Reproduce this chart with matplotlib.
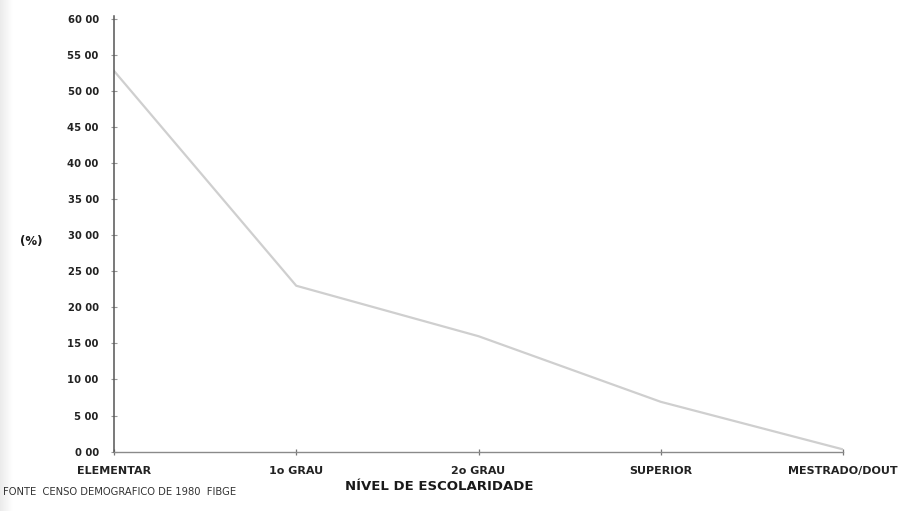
import matplotlib.pyplot as plt
import numpy as np

# dados (censo 1980)
niveis = ['ELEMENTAR', '1o GRAU', '2o GRAU', 'SUPERIOR', 'MESTRADO/DOUT']
percentuais = [52.8, 23.0, 16.0, 6.9, 0.3]
yticks = [0, 5, 10, 15, 20, 25, 30, 35, 40, 45, 50, 55, 60]
ytick_labels = ['%d 00' % v for v in yticks]

plt.rcParams['font.family'] = ['DejaVu Sans']

fig = plt.figure(figsize=(9.06, 5.11), dpi=100)

# sombra cinza da digitalizacao na margem esquerda
sombra = fig.add_axes([0, 0, 0.014, 1])
sombra.imshow(np.linspace(0.92, 1.0, 50).reshape(1, -1), cmap='gray',
              vmin=0, vmax=1, aspect='auto')
sombra.axis('off')

ax = fig.add_axes([0.1258, 0.1163, 0.8047, 0.8466])
x = np.arange(len(niveis))
ax.plot(x, percentuais, color='#cfcfcf', linewidth=1.6)

ax.set_xlim(0, len(niveis) - 1)
ax.set_ylim(0, 60)
ax.set_yticks(yticks)
ax.set_yticklabels(ytick_labels)
ax.set_xticks(x)
ax.set_xticklabels(niveis, fontweight='bold')
for lbl in ax.get_yticklabels():
    lbl.set_fontweight('bold')

for s in ['top', 'right']:
    ax.spines[s].set_visible(False)
ax.spines['left'].set_color('#555555')
ax.spines['left'].set_linewidth(1.1)
ax.spines['bottom'].set_color('#8a8a8a')
ax.spines['bottom'].set_linewidth(1.0)
ax.spines['left'].set_bounds(0, 60.4)

ax.tick_params(axis='y', direction='inout', length=4, width=0.8,
               color='#999999', labelsize=7.2, labelcolor='#222222', pad=9)
ax.tick_params(axis='x', direction='inout', length=5, width=0.9,
               color='#777777', labelsize=8, labelcolor='#222222', pad=8)

fig.text(0.022, 0.528, '(%)', fontsize=8.5, fontweight='bold', color='#1a1a1a',
         va='center')
fig.text(0.485, 0.047, 'NÍVEL DE ESCOLARIDADE', fontsize=9.5, fontweight='bold',
         color='#1a1a1a', ha='center', va='center')
fig.text(0.003, 0.038, 'FONTE  CENSO DEMOGRAFICO DE 1980  FIBGE', fontsize=7.2,
         color='#333333', va='center')

fig.savefig('out.png', dpi=100)
